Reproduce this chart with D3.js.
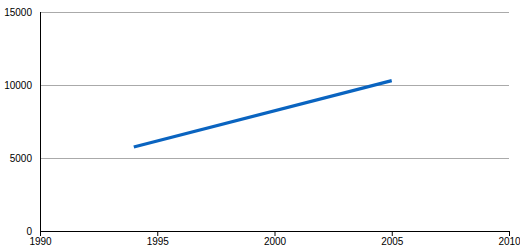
<!DOCTYPE html>
<html>
<head>
<meta charset="utf-8">
<script src="https://cdn.jsdelivr.net/npm/d3@7"></script>
<style>
  body { margin: 0; background: #fff; }
  text { font-family: "Liberation Sans", Arial, sans-serif; font-size: 10px; fill: #000; }
</style>
</head>
<body>
<div id="chart"></div>
<script>
// chart data
var years = [1994, 2005];
var values = [5750, 10300];
var xTicks = [1990, 1995, 2000, 2005, 2010];
var yTicks = [0, 5000, 10000, 15000];

var width = 520, height = 250;
var margin = { top: 12, right: 11, bottom: 19, left: 40 };

var svg = d3.select("#chart").append("svg")
    .attr("width", width)
    .attr("height", height);

var x = d3.scaleLinear()
    .domain([1990, 2010])
    .range([margin.left, width - margin.right]);

var y = d3.scaleLinear()
    .domain([0, 15000])
    .range([height - margin.bottom, margin.top]);

// horizontal gridlines
svg.append("g")
    .selectAll("line")
    .data(yTicks.filter(d => d > 0))
    .enter().append("line")
    .attr("x1", margin.left)
    .attr("x2", width - margin.right)
    .attr("y1", d => Math.round(y(d)) + 0.5)
    .attr("y2", d => Math.round(y(d)) + 0.5)
    .attr("stroke", "#aaa")
    .attr("stroke-width", 1);

// y labels
svg.append("g")
    .selectAll("text")
    .data(yTicks)
    .enter().append("text")
    .attr("x", margin.left - 8)
    .attr("y", d => y(d) + 4)
    .attr("text-anchor", "end")
    .text(d => d);

// y axis line
svg.append("line")
    .attr("x1", margin.left + 0.5)
    .attr("x2", margin.left + 0.5)
    .attr("y1", margin.top)
    .attr("y2", Math.round(y(0)) + 0.5)
    .attr("stroke", "#000");

// x axis
var xAxis = d3.axisBottom(x)
    .tickValues(xTicks)
    .tickFormat(d3.format("d"))
    .tickSize(5)
    .tickPadding(2);

var gx = svg.append("g")
    .attr("transform", `translate(0,${Math.round(y(0))})`)
    .call(xAxis);
gx.select(".domain").attr("stroke", "#000");
gx.selectAll("text")
    .style("font-family", "Liberation Sans, Arial, sans-serif")
    .style("font-size", "10px");

// series line
var line = d3.line()
    .x((d, i) => x(years[i]))
    .y(d => y(d));

svg.append("path")
    .datum(values)
    .attr("fill", "none")
    .attr("stroke", "#0a64c0")
    .attr("stroke-width", 3.2)
    .attr("d", line);
</script>
</body>
</html>
